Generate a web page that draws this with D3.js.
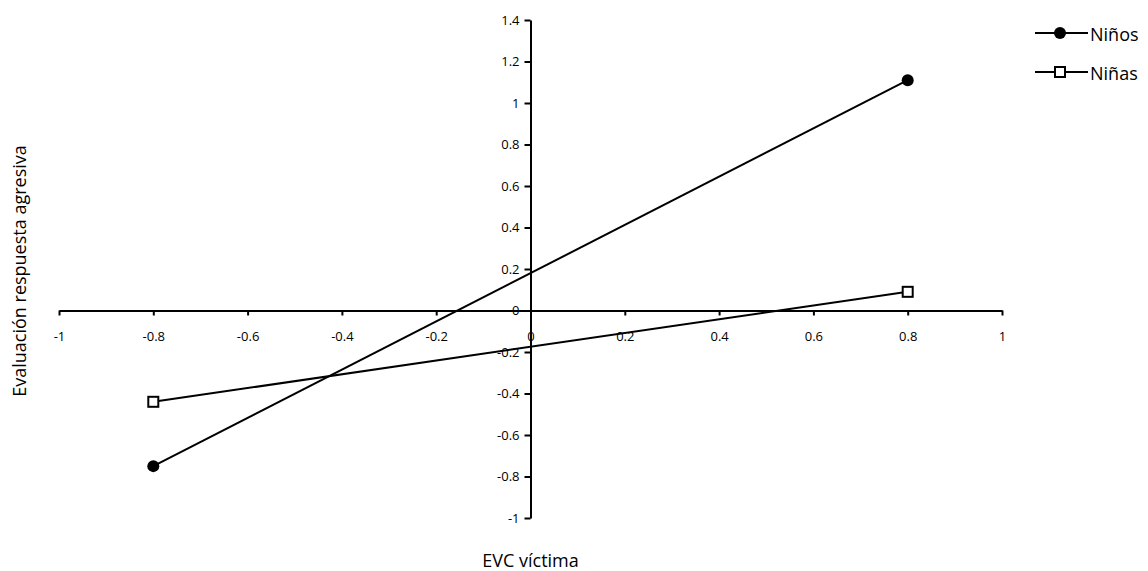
<!DOCTYPE html>
<html lang="es">
<head>
    <meta charset="UTF-8">
    <script src="https://cdn.jsdelivr.net/npm/d3@7"></script>
    <style>
        body { margin: 0; background: #fff; }
        svg { display: block; }
        .tick text { font-family: "Open Sans", sans-serif; font-size: 13px; fill: #000; }
        .axis path, .axis line { stroke: #000; stroke-width: 2; }
    </style>
</head>
<body>
<script>
    // datos
    var xValues = [-0.8, 0.8];
    var ninos = [-0.75, 1.11];
    var ninas = [-0.44, 0.09];
    var seriesNames = ['Niños', 'Niñas'];
    var xTicks = [-1, -0.8, -0.6, -0.4, -0.2, 0, 0.2, 0.4, 0.6, 0.8, 1];
    var yTicks = [-1, -0.8, -0.6, -0.4, -0.2, 0, 0.2, 0.4, 0.6, 0.8, 1, 1.2, 1.4];

    var width = 1148, height = 571;
    var svg = d3.select('body').append('svg')
        .attr('width', width)
        .attr('height', height);

    var x = d3.scaleLinear().domain([-1, 1]).range([59, 1002]);
    var y = d3.scaleLinear().domain([-1, 1.4]).range([518, 20]);

    // etiquetas con guion normal
    var fmt = function(d) { return String(d); };

    // eje x, cruza en y = 0
    var xAxis = d3.axisBottom(x).tickValues(xTicks).tickSize(5).tickSizeOuter(0)
        .tickFormat(fmt);
    svg.append('g').attr('class', 'axis')
        .attr('transform', 'translate(0,' + y(0) + ')')
        .call(xAxis)
        .call(function(g) { g.selectAll('.tick text').attr('dy', '1.75em'); });

    // eje y, cruza en x = 0
    var yAxis = d3.axisLeft(y).tickValues(yTicks).tickSize(6).tickSizeOuter(0)
        .tickFormat(fmt);
    svg.append('g').attr('class', 'axis')
        .attr('transform', 'translate(' + x(0) + ',0)')
        .call(yAxis)
        .call(function(g) { g.selectAll('.tick text').attr('x', -11); });

    var line = d3.line()
        .x(function(d, i) { return x(xValues[i]); })
        .y(function(d) { return y(d); });

    // Niños
    svg.append('path').datum(ninos)
        .attr('d', line).attr('fill', 'none')
        .attr('stroke', '#000').attr('stroke-width', 2);
    svg.selectAll('circle.p').data(ninos).enter().append('circle')
        .attr('class', 'p')
        .attr('cx', function(d, i) { return x(xValues[i]); })
        .attr('cy', function(d) { return y(d); })
        .attr('r', 6).attr('fill', '#000');

    // Niñas
    svg.append('path').datum(ninas)
        .attr('d', line).attr('fill', 'none')
        .attr('stroke', '#000').attr('stroke-width', 2);
    svg.selectAll('rect.p').data(ninas).enter().append('rect')
        .attr('class', 'p')
        .attr('x', function(d, i) { return x(xValues[i]) - 5; })
        .attr('y', function(d) { return y(d) - 5; })
        .attr('width', 10).attr('height', 10)
        .attr('fill', '#fff').attr('stroke', '#000').attr('stroke-width', 2);

    // titulos
    svg.append('text')
        .attr('x', x(0)).attr('y', 567)
        .attr('text-anchor', 'middle')
        .style('font-family', '"Open Sans", sans-serif').style('font-size', '18px')
        .text('EVC víctima');
    svg.append('text')
        .attr('transform', 'translate(20,271) rotate(-90)')
        .attr('text-anchor', 'middle')
        .attr('dy', '0.35em')
        .style('font-family', '"Open Sans", sans-serif').style('font-size', '18px')
        .text('Evaluación respuesta agresiva');

    // leyenda
    var legend = svg.append('g').attr('transform', 'translate(1035,33)');
    seriesNames.forEach(function(name, i) {
        var g = legend.append('g').attr('transform', 'translate(0,' + i * 39 + ')');
        g.append('line').attr('x1', 0).attr('x2', 53).attr('y1', 0).attr('y2', 0)
            .attr('stroke', '#000').attr('stroke-width', 2);
        if (i === 0) {
            g.append('circle').attr('cx', 25).attr('cy', 0).attr('r', 6).attr('fill', '#000');
        } else {
            g.append('rect').attr('x', 20).attr('y', -5).attr('width', 10).attr('height', 10)
                .attr('fill', '#fff').attr('stroke', '#000').attr('stroke-width', 2);
        }
        g.append('text').attr('x', 55).attr('y', 0).attr('dy', '0.45em')
            .style('font-family', '"Open Sans", sans-serif').style('font-size', '18px')
            .text(name);
    });
</script>
</body>
</html>
